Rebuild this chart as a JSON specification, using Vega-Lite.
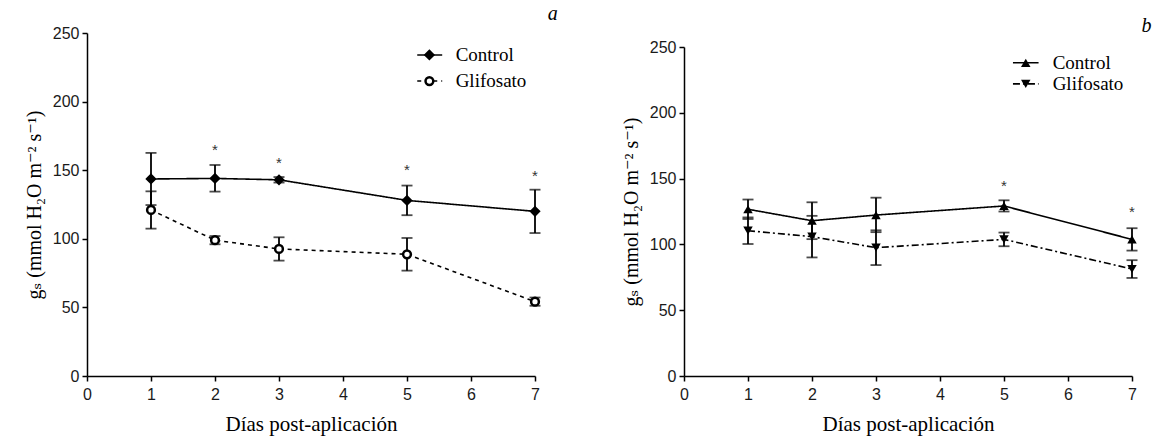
{
  "$schema": "https://vega.github.io/schema/vega-lite/v6.json",
  "background": "white",
  "padding": {"left": 24, "top": 4, "right": 5, "bottom": 5},
  "spacing": 63,
  "datasets": {
    "d": [
      {"panel": "a", "serie": "Control", "dia": 1, "gs": 143.6, "lo": 124.6, "hi": 162.6, "star": null},
      {"panel": "a", "serie": "Control", "dia": 2, "gs": 144.0, "lo": 134.4, "hi": 153.8, "star": 166.9},
      {"panel": "a", "serie": "Control", "dia": 3, "gs": 143.0, "lo": 141.0, "hi": 145.0, "star": 157.4},
      {"panel": "a", "serie": "Control", "dia": 5, "gs": 128.0, "lo": 117.2, "hi": 138.8, "star": 152.6},
      {"panel": "a", "serie": "Control", "dia": 7, "gs": 120.0, "lo": 104.2, "hi": 135.8, "star": 147.7},
      {"panel": "a", "serie": "Glifosato", "dia": 1, "gs": 121.0, "lo": 107.4, "hi": 134.6, "star": null},
      {"panel": "a", "serie": "Glifosato", "dia": 2, "gs": 99.0, "lo": 96.0, "hi": 102.0, "star": null},
      {"panel": "a", "serie": "Glifosato", "dia": 3, "gs": 92.6, "lo": 84.1, "hi": 101.1, "star": null},
      {"panel": "a", "serie": "Glifosato", "dia": 5, "gs": 88.7, "lo": 76.8, "hi": 100.6, "star": null},
      {"panel": "a", "serie": "Glifosato", "dia": 7, "gs": 54.2, "lo": 51.2, "hi": 57.2, "star": null},
      {"panel": "b", "serie": "Control", "dia": 1, "gs": 126.7, "lo": 119.3, "hi": 134.1, "star": null},
      {"panel": "b", "serie": "Control", "dia": 2, "gs": 118.0, "lo": 104.0, "hi": 132.0, "star": null},
      {"panel": "b", "serie": "Control", "dia": 3, "gs": 122.3, "lo": 109.3, "hi": 135.5, "star": null},
      {"panel": "b", "serie": "Control", "dia": 5, "gs": 129.2, "lo": 125.0, "hi": 133.5, "star": 146.9},
      {"panel": "b", "serie": "Control", "dia": 7, "gs": 103.8, "lo": 95.3, "hi": 112.3, "star": 126.7},
      {"panel": "b", "serie": "Glifosato", "dia": 1, "gs": 110.4, "lo": 100.3, "hi": 120.5, "star": null},
      {"panel": "b", "serie": "Glifosato", "dia": 2, "gs": 105.9, "lo": 90.1, "hi": 121.7, "star": null},
      {"panel": "b", "serie": "Glifosato", "dia": 3, "gs": 97.5, "lo": 84.3, "hi": 110.7, "star": null},
      {"panel": "b", "serie": "Glifosato", "dia": 5, "gs": 103.8, "lo": 98.6, "hi": 109.0, "star": null},
      {"panel": "b", "serie": "Glifosato", "dia": 7, "gs": 81.3, "lo": 74.5, "hi": 88.0, "star": null}
    ],
    "leg": [
      {"panel": "a", "serie": "Control", "lx": 5.35, "ly": 234, "x1": 5.16, "x2": 5.55, "tx": 5.76},
      {"panel": "a", "serie": "Glifosato", "lx": 5.35, "ly": 215, "x1": 5.16, "x2": 5.55, "tx": 5.76},
      {"panel": "b", "serie": "Control", "lx": 5.34, "ly": 238, "x1": 5.14, "x2": 5.54, "tx": 5.76},
      {"panel": "b", "serie": "Glifosato", "lx": 5.34, "ly": 222, "x1": 5.14, "x2": 5.54, "tx": 5.76}
    ]
  },
  "config": {
    "view": {"stroke": null},
    "axis": {
      "grid": false,
      "domainColor": "black",
      "domainWidth": 1.5,
      "tickColor": "black",
      "tickWidth": 1.5,
      "tickSize": 5,
      "labelFont": "Liberation Sans",
      "labelFontSize": 16,
      "labelColor": "#1a1a1a",
      "labelPadding": 3,
      "titleFont": "Liberation Serif, DejaVu Serif",
      "titleFontWeight": "normal",
      "titleColor": "black"
    },
    "axisX": {"titleFontSize": 21, "titlePadding": 11, "labelPadding": 5, "labelFlush": false},
    "axisY": {"titleFontSize": 20, "titlePadding": 8, "labelFlush": false},
    "title": {"font": "Liberation Serif", "fontStyle": "italic", "fontWeight": "normal", "fontSize": 20, "color": "black", "anchor": "end"}
  },
  "resolve": {"scale": {"x": "independent", "y": "independent", "shape": "independent", "fill": "independent", "strokeDash": "independent"}},
  "hconcat": [
    {
      "title": {"text": "a", "offset": 1, "dx": 14},
      "width": 448,
      "height": 343,
      "layer": [
        {
          "data": {"name": "d"},
          "transform": [{"filter": "datum.panel == 'a'"}],
          "mark": {"type": "rule", "color": "black", "strokeWidth": 1.8},
          "encoding": {
            "x": {"field": "dia", "type": "quantitative", "scale": {"domain": [0, 7], "nice": false}, "axis": {"values": [0, 1, 2, 3, 4, 5, 6, 7], "format": "d", "title": "Días post-aplicación"}},
            "y": {"field": "lo", "type": "quantitative", "scale": {"domain": [0, 250], "nice": false}, "axis": {"values": [0, 50, 100, 150, 200, 250], "format": "d", "title": "gₛ  (mmol H₂O m⁻² s⁻¹)"}},
            "y2": {"field": "hi"}
          }
        },
        {
          "data": {"name": "d"},
          "transform": [{"filter": "datum.panel == 'a'"}],
          "mark": {"type": "tick", "orient": "horizontal", "color": "black", "size": 11, "thickness": 1.8},
          "encoding": {"x": {"field": "dia", "type": "quantitative"}, "y": {"field": "lo", "type": "quantitative"}}
        },
        {
          "data": {"name": "d"},
          "transform": [{"filter": "datum.panel == 'a'"}],
          "mark": {"type": "tick", "orient": "horizontal", "color": "black", "size": 11, "thickness": 1.8},
          "encoding": {"x": {"field": "dia", "type": "quantitative"}, "y": {"field": "hi", "type": "quantitative"}}
        },
        {
          "data": {"name": "d"},
          "transform": [{"filter": "datum.panel == 'a'"}],
          "mark": {"type": "line", "color": "black", "strokeWidth": 1.6},
          "encoding": {
            "x": {"field": "dia", "type": "quantitative"},
            "y": {"field": "gs", "type": "quantitative"},
            "strokeDash": {"field": "serie", "type": "nominal", "scale": {"domain": ["Control", "Glifosato"], "range": [[1, 0], [4, 4]]}, "legend": null}
          }
        },
        {
          "data": {"name": "d"},
          "transform": [{"filter": "datum.panel == 'a'"}],
          "mark": {"type": "point", "filled": true, "stroke": "black", "strokeWidth": 2.5, "size": 60, "opacity": 1},
          "encoding": {
            "x": {"field": "dia", "type": "quantitative"},
            "y": {"field": "gs", "type": "quantitative"},
            "shape": {"field": "serie", "type": "nominal", "scale": {"domain": ["Control", "Glifosato"], "range": ["diamond", "circle"]}, "legend": null},
            "fill": {"field": "serie", "type": "nominal", "scale": {"domain": ["Control", "Glifosato"], "range": ["black", "white"]}, "legend": null}
          }
        },
        {
          "data": {"name": "d"},
          "transform": [{"filter": "datum.panel == 'a' && datum.star != null"}],
          "mark": {"type": "text", "text": "*", "font": "Liberation Sans", "fontSize": 15, "color": "#333", "baseline": "middle", "dy": 3},
          "encoding": {"x": {"field": "dia", "type": "quantitative"}, "y": {"field": "star", "type": "quantitative"}}
        },
        {
          "data": {"name": "leg"},
          "transform": [{"filter": "datum.panel == 'a'"}],
          "mark": {"type": "rule", "color": "black", "strokeWidth": 1.6},
          "encoding": {
            "x": {"field": "x1", "type": "quantitative"},
            "x2": {"field": "x2"},
            "y": {"field": "ly", "type": "quantitative"},
            "strokeDash": {"field": "serie", "type": "nominal", "legend": null}
          }
        },
        {
          "data": {"name": "leg"},
          "transform": [{"filter": "datum.panel == 'a'"}],
          "mark": {"type": "point", "filled": true, "stroke": "black", "strokeWidth": 2.5, "size": 60, "opacity": 1},
          "encoding": {
            "x": {"field": "lx", "type": "quantitative"},
            "y": {"field": "ly", "type": "quantitative"},
            "shape": {"field": "serie", "type": "nominal", "legend": null},
            "fill": {"field": "serie", "type": "nominal", "legend": null}
          }
        },
        {
          "data": {"name": "leg"},
          "transform": [{"filter": "datum.panel == 'a'"}],
          "mark": {"type": "text", "font": "Liberation Serif", "fontSize": 19, "color": "black", "align": "left", "baseline": "middle"},
          "encoding": {
            "x": {"field": "tx", "type": "quantitative"},
            "y": {"field": "ly", "type": "quantitative"},
            "text": {"field": "serie"}
          }
        }
      ]
    },
    {
      "title": {"text": "b", "offset": 1, "dx": 14, "dy": 4},
      "width": 448,
      "height": 343,
      "layer": [
        {
          "data": {"name": "d"},
          "transform": [{"filter": "datum.panel == 'b'"}],
          "mark": {"type": "rule", "color": "black", "strokeWidth": 1.8},
          "encoding": {
            "x": {"field": "dia", "type": "quantitative", "scale": {"domain": [0, 7], "nice": false}, "axis": {"values": [0, 1, 2, 3, 4, 5, 6, 7], "format": "d", "title": "Días post-aplicación"}},
            "y": {"field": "lo", "type": "quantitative", "scale": {"domain": [0, 250], "nice": false, "range": [343, 14]}, "axis": {"values": [0, 50, 100, 150, 200, 250], "format": "d", "title": "gₛ  (mmol H₂O m⁻² s⁻¹)"}},
            "y2": {"field": "hi"}
          }
        },
        {
          "data": {"name": "d"},
          "transform": [{"filter": "datum.panel == 'b'"}],
          "mark": {"type": "tick", "orient": "horizontal", "color": "black", "size": 11, "thickness": 1.8},
          "encoding": {"x": {"field": "dia", "type": "quantitative"}, "y": {"field": "lo", "type": "quantitative"}}
        },
        {
          "data": {"name": "d"},
          "transform": [{"filter": "datum.panel == 'b'"}],
          "mark": {"type": "tick", "orient": "horizontal", "color": "black", "size": 11, "thickness": 1.8},
          "encoding": {"x": {"field": "dia", "type": "quantitative"}, "y": {"field": "hi", "type": "quantitative"}}
        },
        {
          "data": {"name": "d"},
          "transform": [{"filter": "datum.panel == 'b'"}],
          "mark": {"type": "line", "color": "black", "strokeWidth": 1.6},
          "encoding": {
            "x": {"field": "dia", "type": "quantitative"},
            "y": {"field": "gs", "type": "quantitative"},
            "strokeDash": {"field": "serie", "type": "nominal", "scale": {"domain": ["Control", "Glifosato"], "range": [[1, 0], [7, 3, 2, 3]]}, "legend": null}
          }
        },
        {
          "data": {"name": "d"},
          "transform": [{"filter": "datum.panel == 'b'"}],
          "mark": {"type": "point", "filled": true, "color": "black", "size": 90, "opacity": 1},
          "encoding": {
            "x": {"field": "dia", "type": "quantitative"},
            "y": {"field": "gs", "type": "quantitative"},
            "shape": {"field": "serie", "type": "nominal", "scale": {"domain": ["Control", "Glifosato"], "range": ["triangle-up", "triangle-down"]}, "legend": null}
          }
        },
        {
          "data": {"name": "d"},
          "transform": [{"filter": "datum.panel == 'b' && datum.star != null"}],
          "mark": {"type": "text", "text": "*", "font": "Liberation Sans", "fontSize": 15, "color": "#333", "baseline": "middle", "dy": 3},
          "encoding": {"x": {"field": "dia", "type": "quantitative"}, "y": {"field": "star", "type": "quantitative"}}
        },
        {
          "data": {"name": "leg"},
          "transform": [{"filter": "datum.panel == 'b'"}],
          "mark": {"type": "rule", "color": "black", "strokeWidth": 1.6},
          "encoding": {
            "x": {"field": "x1", "type": "quantitative"},
            "x2": {"field": "x2"},
            "y": {"field": "ly", "type": "quantitative"},
            "strokeDash": {"field": "serie", "type": "nominal", "legend": null}
          }
        },
        {
          "data": {"name": "leg"},
          "transform": [{"filter": "datum.panel == 'b'"}],
          "mark": {"type": "point", "filled": true, "color": "black", "size": 90, "opacity": 1},
          "encoding": {
            "x": {"field": "lx", "type": "quantitative"},
            "y": {"field": "ly", "type": "quantitative"},
            "shape": {"field": "serie", "type": "nominal", "legend": null}
          }
        },
        {
          "data": {"name": "leg"},
          "transform": [{"filter": "datum.panel == 'b'"}],
          "mark": {"type": "text", "font": "Liberation Serif", "fontSize": 19, "color": "black", "align": "left", "baseline": "middle"},
          "encoding": {
            "x": {"field": "tx", "type": "quantitative"},
            "y": {"field": "ly", "type": "quantitative"},
            "text": {"field": "serie"}
          }
        }
      ]
    }
  ]
}
